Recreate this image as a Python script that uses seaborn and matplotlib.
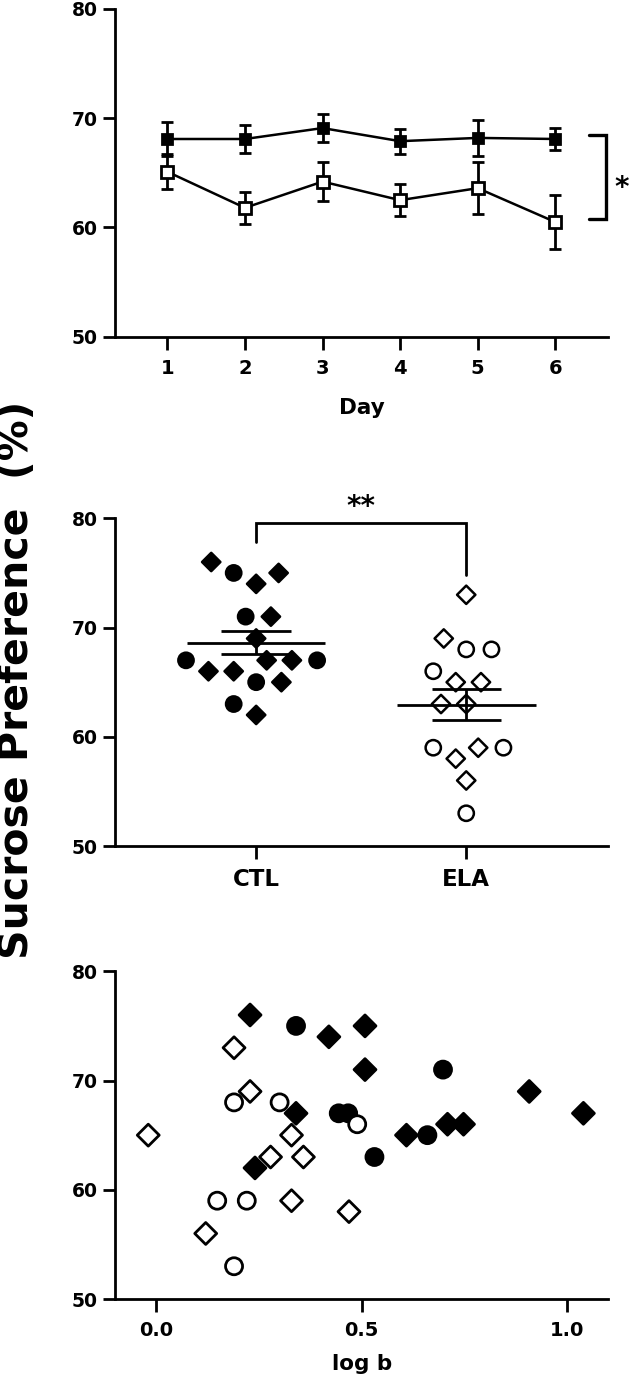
import numpy as np
import pandas as pd
import matplotlib
matplotlib.use("Agg")
import matplotlib.pyplot as plt
import seaborn as sns
from matplotlib.markers import MarkerStyle
from matplotlib.transforms import Affine2D

# daily sucrose preference, mean and SEM per group
days = [1, 2, 3, 4, 5, 6]
ctl_mean = [68.1, 68.1, 69.1, 67.9, 68.2, 68.1]
ctl_sem = [1.6, 1.3, 1.3, 1.15, 1.65, 1.05]
ela_mean = [65.1, 61.8, 64.2, 62.5, 63.6, 60.5]
ela_sem = [1.6, 1.45, 1.75, 1.45, 2.35, 2.5]

# individual animals: preference (%), log b, cohort (diamond / circle symbols)
ctl_pref = [76, 75, 74, 71, 69, 67, 67, 66, 66, 65, 62, 75, 71, 67, 67, 65, 63]
ctl_logb = [0.228, 0.508, 0.420, 0.508, 0.908, 0.340, 1.040, 0.709, 0.748, 0.609, 0.240,
            0.340, 0.698, 0.444, 0.467, 0.660, 0.531]
ctl_cohort = ["c1"] * 11 + ["c2"] * 6

ela_pref = [73, 69, 65, 65, 63, 63, 59, 58, 56, 68, 68, 66, 59, 59, 53]
ela_logb = [0.189, 0.228, -0.020, 0.329, 0.278, 0.358, 0.329, 0.469, 0.120,
            0.189, 0.300, 0.489, 0.148, 0.220, 0.189]
ela_cohort = ["c1"] * 9 + ["c2"] * 6

groups = ["CTL", "ELA"]

df = pd.DataFrame({
    "group": ["CTL"] * len(ctl_pref) + ["ELA"] * len(ela_pref),
    "pref": ctl_pref + ela_pref,
    "logb": ctl_logb + ela_logb,
    "cohort": ctl_cohort + ela_cohort,
})

sns.set_theme(style="ticks")
plt.rcParams["font.family"] = ["DejaVu Sans"]
plt.rcParams.update({
    "font.weight": "bold",
    "axes.labelweight": "bold",
    "text.color": "black",
    "axes.labelcolor": "black",
    "xtick.color": "black",
    "ytick.color": "black",
})

pal = {"CTL": "black", "ELA": "white"}
mk = {"c1": "D", "c2": "o"}
LW = 2.0


def style_axis(ax):
    sns.despine(ax=ax)
    for s in ["left", "bottom"]:
        ax.spines[s].set_linewidth(LW)
        ax.spines[s].set_color("black")
    ax.tick_params(axis="both", width=LW, length=9, color="black", labelcolor="black")
    ax.tick_params(axis="y", labelsize=13.5, pad=3.5)
    ax.tick_params(axis="x", labelsize=14, pad=7)
    ax.set_ylim(50, 80)
    ax.set_yticks([50, 60, 70, 80])
    ax.set_ylabel("")
    ax.grid(False)


fig = plt.figure(figsize=(6.31, 13.84), dpi=100)
ax1 = fig.add_axes([0.1829, 0.7567, 0.7807, 0.2368])
ax2 = fig.add_axes([0.1829, 0.3887, 0.7807, 0.2368])
ax3 = fig.add_axes([0.1829, 0.0614, 0.7807, 0.2368])

# ---- top: preference across days
for mean, sem, face in [(ctl_mean, ctl_sem, "black"), (ela_mean, ela_sem, "white")]:
    ax1.errorbar(days, mean, yerr=sem, fmt="none", ecolor="black", elinewidth=2,
                 capsize=4.3, capthick=2, zorder=2)
    sns.lineplot(x=days, y=mean, ax=ax1, color="black", linewidth=1.8, marker="s",
                 markersize=8.5 if face == "white" else 7.8, markerfacecolor=face,
                 markeredgecolor="black", markeredgewidth=2, zorder=3)
style_axis(ax1)
ax1.set_xlim(0.33, 6.68)
ax1.set_xticks(days)
ax1.set_xlabel("Day", fontsize=15.5, labelpad=14.5)
ax1.plot([6.43, 6.65, 6.65, 6.43], [68.5, 68.5, 60.75, 60.75], color="black",
         lw=2.4, clip_on=False, solid_joinstyle="miter")
ax1.text(6.86, 63.6, "*", fontsize=20, ha="center", va="center", fontweight="bold")

# ---- middle: individual values with mean and SEM
# swarm is laid out with a wider spacing, then drawn with the smaller symbols
sns.swarmplot(data=df, x="group", y="pref", hue="group", order=groups, palette=pal,
              size=15.5, edgecolor="black", linewidth=1.8, legend=False, ax=ax2, zorder=1)
swarm_colls = list(ax2.collections)


def marker_path(m, scale=1.0):
    ms = MarkerStyle(m)
    return ms.get_path().transformed(ms.get_transform() + Affine2D().scale(scale))


paths = {"c1": marker_path("D", 0.85), "c2": marker_path("o")}
for coll, g in zip(swarm_colls, groups):
    coh = df.loc[df["group"] == g, "cohort"]
    coll.set_paths([paths[c] for c in coh])

stats = df.groupby("group")["pref"].agg(["mean", "sem"]).reindex(groups)
for i, (m, e) in enumerate(zip(stats["mean"], stats["sem"])):
    ax2.hlines(m, i - 0.33, i + 0.33, color="black", lw=2, zorder=4)
    ax2.hlines([m - e, m + e], i - 0.165, i + 0.165, color="black", lw=2, zorder=4)
    ax2.vlines(i, m - e, m + e, color="black", lw=2, zorder=4)
style_axis(ax2)
ax2.set_xlim(-0.67, 1.675)
ax2.tick_params(axis="x", labelsize=16.5, pad=7)
ax2.set_xlabel("")
ax2.plot([0, 0, 1, 1], [77.86, 79.54, 79.54, 74.8], color="black", lw=2,
         clip_on=False, solid_joinstyle="miter")
ax2.text(0.5, 81.0, "**", fontsize=20, ha="center", va="center", fontweight="bold")

# ---- bottom: preference vs log b
sns.scatterplot(data=df, x="logb", y="pref", hue="group", style="cohort", markers=mk,
                size="cohort", sizes={"c1": 125, "c2": 150}, palette=pal,
                edgecolor="black", linewidth=2, legend=False, ax=ax3, zorder=2)
style_axis(ax3)
ax3.set_xlim(-0.1, 1.1)
ax3.set_xticks([0.0, 0.5, 1.0])
ax3.set_xticklabels(["0.0", "0.5", "1.0"])
ax3.set_xlabel("log b", fontsize=15.5, labelpad=10)

fig.text(0.0277, 0.509, "Sucrose Preference  (%)", rotation=90, ha="center",
         va="center", fontsize=29.5, fontweight="bold")

# fix the swarm positions, then shrink the symbols to their drawn size
fig.canvas.draw()
for coll in swarm_colls:
    coll.__dict__.pop("draw", None)
    coll.set_sizes([11 ** 2])

fig.savefig("out.png", dpi=100)
